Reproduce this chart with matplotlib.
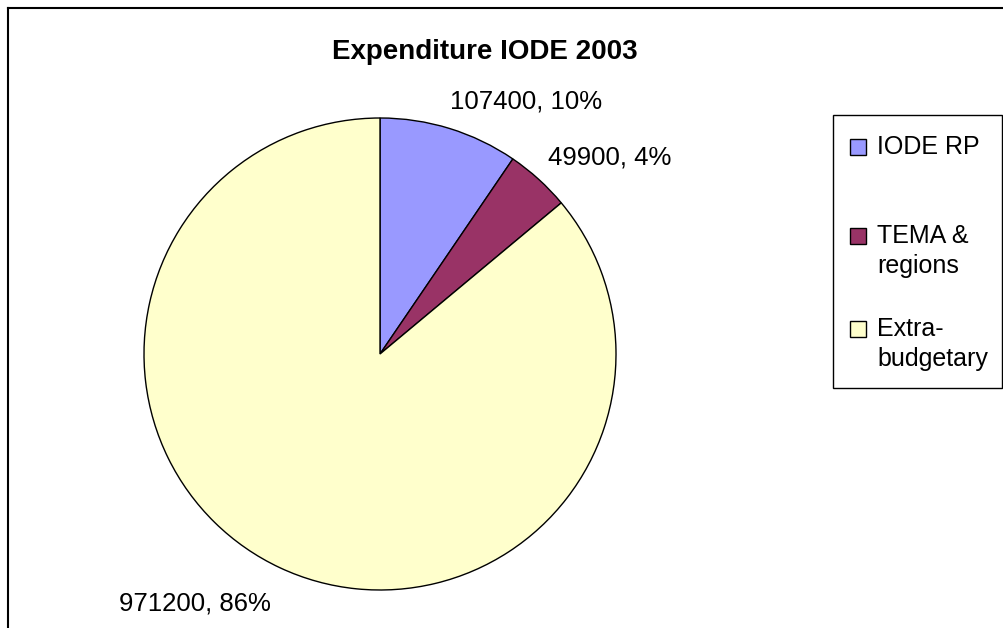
import matplotlib
matplotlib.use("Agg")
import matplotlib.pyplot as plt
from matplotlib.lines import Line2D
from matplotlib.patches import Rectangle

plt.rcParams["font.family"] = ["Liberation Sans", "DejaVu Sans"]

# data
categories = ["IODE RP", "TEMA &\nregions", "Extra-\nbudgetary"]
values = [107400, 49900, 971200]
colors = ["#9999FF", "#993366", "#FFFFCC"]
title = "Expenditure IODE 2003"

W, H = 1004, 628
fig = plt.figure(figsize=(W / 100, H / 100), dpi=100)


def px(x, y):
    """pixel (from top-left) -> figure fraction"""
    return x / W, 1 - y / H


# pie centre (380, 354) px, radius 236 px
cx, cy, r = 380, 354, 236
ax = fig.add_axes([(cx - r) / W, (H - cy - r) / H, 2 * r / W, 2 * r / H])
wedges, _ = ax.pie(values, colors=colors, startangle=90, counterclock=False,
                   wedgeprops={"edgecolor": "black", "linewidth": 1.0})
ax.set_xlim(-1, 1)
ax.set_ylim(-1, 1)
ax.set_aspect("equal")

total = sum(values)
labels = [f"{v}, {round(v / total * 100):.0f}%" for v in values]
# label positions in pie units (radius = 1)
label_pos = [((526 - cx) / r, (cy - 102) / r),
             ((610 - cx) / r, (cy - 157) / r),
             ((195 - cx) / r, (cy - 603) / r)]
for txt, (x, y) in zip(labels, label_pos):
    ax.text(x, y, txt, ha="center", va="center", fontsize=18.5, clip_on=False)

fig.text(*px(485, 52), title, ha="center", va="center",
         fontsize=20, fontweight="bold")

# legend drawn by hand (Excel style: marker aligned with first text line)
box_l, box_t, box_r, box_b = 833, 115, 1002, 388
fig.add_artist(Rectangle(px(box_l, box_b), (box_r - box_l) / W, (box_b - box_t) / H,
                         transform=fig.transFigure, facecolor="white",
                         edgecolor="black", lw=1.0))
entry_y = [147, 236, 329]
line_h = 30
msz = 16
for cat, col, y0 in zip(categories, colors, entry_y):
    fig.add_artist(Rectangle(px(850, y0 + msz / 2), msz / W, msz / H,
                             transform=fig.transFigure, facecolor=col,
                             edgecolor="black", lw=1.0))
    for i, line in enumerate(cat.split("\n")):
        fig.text(*px(877, y0 + i * line_h), line, ha="left", va="center",
                 fontsize=18)

# chart-area border (only left and top visible)
fig.add_artist(Line2D([8 / W, 8 / W], [0, 1 - 8 / H], color="black", lw=1.5,
                      transform=fig.transFigure))
fig.add_artist(Line2D([8 / W, 1], [1 - 8 / H, 1 - 8 / H], color="black", lw=1.5,
                      transform=fig.transFigure))

fig.savefig("out.png", dpi=100)
